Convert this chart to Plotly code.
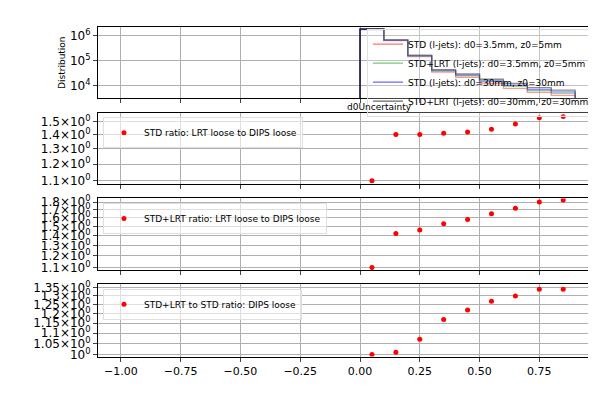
import math
import plotly.graph_objects as go
from plotly.subplots import make_subplots

edges = [0.0,0.1,0.2,0.3,0.4,0.5,0.6,0.7,0.8,0.9]
centers = [0.05,0.15,0.25,0.35,0.45,0.55,0.65,0.75,0.85]
std_35 = [1.8e6,6.5e5,1.5e5,3.6e4,2.2e4,1.25e4,8.0e3,5.5e3,4.2e3]
lrt_35 = [1.9e6,6.7e5,1.6e5,3.9e4,2.5e4,1.5e4,9.5e3,6.5e3,5.0e3]
std_30 = [1.85e6,6.8e5,1.6e5,4.2e4,2.7e4,1.6e4,1.05e4,7.2e3,5.8e3]
lrt_30 = [1.9e6,7.0e5,1.7e5,4.5e4,3.0e4,1.85e4,1.25e4,8.5e3,6.8e3]
hist_names = ["STD (l-jets): d0=3.5mm, z0=5mm","STD+LRT (l-jets): d0=3.5mm, z0=5mm",
              "STD (l-jets): d0=30mm, z0=30mm","STD+LRT (l-jets): d0=30mm, z0=30mm"]
hist_colors = ["rgba(255,0,0,0.55)","rgba(0,160,0,0.55)","rgba(0,0,255,0.6)","rgba(0,0,0,0.6)"]
ratio1 = [1.10,1.40,1.40,1.41,1.42,1.44,1.48,1.53,1.54]
ratio2 = [1.10,1.42,1.46,1.53,1.58,1.65,1.72,1.80,1.83]
ratio3 = [1.00,1.01,1.07,1.17,1.22,1.27,1.30,1.34,1.34]
ratio_names = ["STD ratio: LRT loose to DIPS loose","STD+LRT ratio: LRT loose to DIPS loose",
               "STD+LRT to STD ratio: DIPS loose"]

fig = make_subplots(rows=4, cols=1, vertical_spacing=0.0)
doms = [(1-90/413, 1-10/413),(1-186/413,1-106/413),(1-282/413,1-202/413),(1-379/413,1-298/413)]

for v, n, c in zip([std_35,lrt_35,std_30,lrt_30], hist_names, hist_colors):
    xs = [edges[0]] + edges + [edges[-1]]
    ys = [1e3] + v + [v[-1], 1e3]
    fig.add_trace(go.Scatter(x=xs, y=ys, mode="lines", line=dict(color=c, width=1.3, shape="hv"),
                             name=n, legend="legend"), row=1, col=1)

for i, (r, n) in enumerate(zip([ratio1, ratio2, ratio3], ratio_names)):
    fig.add_trace(go.Scatter(x=centers, y=r, mode="markers", marker=dict(color="red", size=5),
                             name=n, legend=f"legend{i+2}"), row=i+2, col=1)

def sup(v):
    return f"{v:g}×10<sup>0</sup>" if v != 1 else "10<sup>0</sup>"

yt = [[1e4,1e5,1e6],[1.1,1.2,1.3,1.4,1.5],[1.1,1.2,1.3,1.4,1.5,1.6,1.7,1.8],[1.0,1.05,1.1,1.15,1.2,1.25,1.3,1.35]]
ytt = [["10<sup>4</sup>","10<sup>5</sup>","10<sup>6</sup>"]] + [[sup(v) for v in t] for t in yt[1:]]
yr = [[3.5, 6.36],[math.log10(1.08), math.log10(1.57)],[math.log10(1.08), math.log10(1.85)],[math.log10(0.99), math.log10(1.37)]]
for i in range(4):
    ax = "" if i == 0 else str(i+1)
    fig.layout[f"yaxis{ax}"].update(type="log", domain=doms[i], range=yr[i], tickvals=yt[i], ticktext=ytt[i],
        showgrid=True, gridcolor="#b0b0b0", showline=True, mirror=True, linecolor="black",
        ticks="outside", ticklen=4, tickfont=dict(size=12, color="black"), zeroline=False, automargin=False)
    fig.layout[f"xaxis{ax}"].update(domain=[0, 1], range=[-1.096, 0.983], tickvals=[-1,-0.75,-0.5,-0.25,0,0.25,0.5,0.75],
        ticktext=["−1.00","−0.75","−0.50","−0.25","0.00","0.25","0.50","0.75"],
        showticklabels=(i == 3), showgrid=True, gridcolor="#b0b0b0", showline=True, mirror=True,
        linecolor="black", ticks="outside", ticklen=4, tickfont=dict(size=11, color="black"), zeroline=False,
        anchor=f"y{ax}", automargin=False)
fig.layout.yaxis.title = dict(text="Distribution", font=dict(size=9, color="black"), standoff=2)

leg = dict(bgcolor="rgba(255,255,255,0.6)", bordercolor="#e0e0e0", borderwidth=1,
           font=dict(size=9, color="black"), tracegroupgap=0)
fig.update_layout(
    width=596, height=413, margin=dict(l=90, r=9, t=10, b=34), plot_bgcolor="white", paper_bgcolor="white",
    font=dict(family="DejaVu Sans"),
    legend=dict(leg, x=1, y=1 - 12/413, xanchor="right", yanchor="top", bgcolor="rgba(255,255,255,0.25)"),
    legend2=dict(leg, x=0.01, y=doms[1][1] - 0.012, xanchor="left", yanchor="top"),
    legend3=dict(leg, x=0.01, y=doms[2][1] - 0.012, xanchor="left", yanchor="top"),
    legend4=dict(leg, x=0.01, y=doms[3][1] - 0.012, xanchor="left", yanchor="top"),
    annotations=[dict(text="d0Uncertainty", x=338/596, y=1-100/413, xref="paper", yref="paper",
                      showarrow=False, font=dict(size=9, color="black"), xanchor="center", yanchor="middle")],
)
fig.layout.legend.itemwidth = 30
fig.write_html("out.html")
